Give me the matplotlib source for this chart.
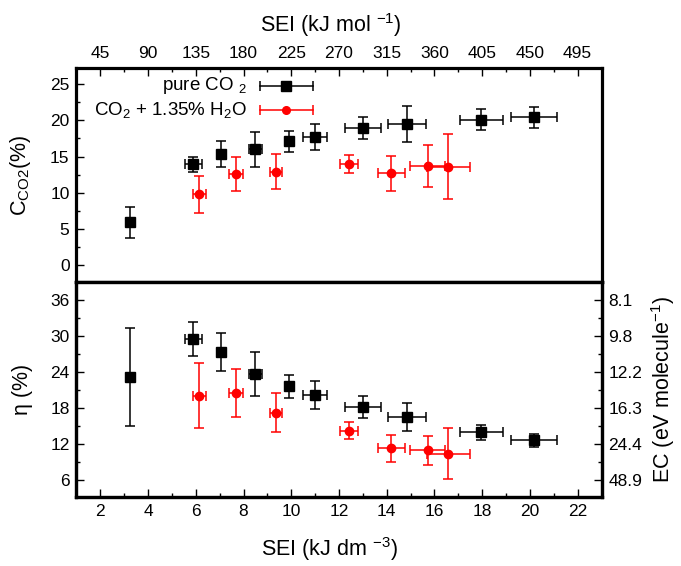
import matplotlib
matplotlib.use("Agg")
import matplotlib.pyplot as plt
from matplotlib.ticker import MultipleLocator

plt.rcParams['font.family'] = ['Liberation Sans', 'DejaVu Sans']
plt.rcParams['mathtext.fontset'] = 'custom'
plt.rcParams['mathtext.rm'] = 'Liberation Sans'
plt.rcParams['mathtext.it'] = 'Liberation Sans:italic'
plt.rcParams['mathtext.default'] = 'regular'

# ---- pure CO2 ----
sei_co2 = [3.23, 5.90, 7.05, 8.49, 9.91, 10.99, 13.00, 14.84, 17.97, 20.18]
sei_co2_err = [0.0, 0.37, 0.12, 0.27, 0.15, 0.50, 0.74, 0.80, 0.89, 0.96]
conv_co2 = [5.9, 13.9, 15.4, 16.0, 17.1, 17.7, 18.9, 19.5, 20.1, 20.4]
conv_co2_err = [2.1, 1.05, 1.8, 2.45, 1.45, 1.8, 1.5, 2.5, 1.5, 1.4]
eff_co2 = [23.1, 29.5, 27.3, 23.6, 21.6, 20.1, 18.1, 16.5, 13.9, 12.6]
eff_co2_err = [8.2, 2.9, 3.2, 3.7, 1.9, 2.3, 1.8, 2.3, 1.3, 1.1]

# ---- CO2 + 1.35% H2O ----
sei_h2o = [6.14, 7.67, 9.36, 12.42, 14.19, 15.71, 16.57]
sei_h2o_err = [0.27, 0.29, 0.25, 0.36, 0.56, 0.72, 0.90]
conv_h2o = [9.8, 12.6, 12.9, 14.0, 12.7, 13.7, 13.6]
conv_h2o_err = [2.55, 2.4, 2.4, 1.25, 2.4, 2.85, 4.5]
eff_h2o = [20.0, 20.5, 17.2, 14.2, 11.2, 10.9, 10.3]
eff_h2o_err = [5.4, 4.0, 3.2, 1.4, 2.2, 2.4, 4.25]

# axis ticks
sei_ticks = [2, 4, 6, 8, 10, 12, 14, 16, 18, 20, 22]
sei_mol_labels = ["45", "90", "135", "180", "225", "270", "315", "360", "405", "450", "495"]
conv_ticks = [0, 5, 10, 15, 20, 25]
eta_ticks = [6, 12, 18, 24, 30, 36]
ec_labels = ["48.9", "24.4", "16.3", "12.2", "9.8", "8.1"]

RED = '#ff0000'
FS_TICK = 12.5
FS_KEY = 13.5
FS_LABEL = 15.5
SPINE_W = 2.3

fig = plt.figure(figsize=(6.81, 5.66), dpi=100)
ax1 = fig.add_axes([0.1123, 0.5018, 0.7710, 0.3775])
ax2 = fig.add_axes([0.1123, 0.1219, 0.7710, 0.3799])

ebkw = dict(linestyle='none', elinewidth=1.1, capsize=3.4, capthick=1.1)

# top panel: CO2 conversion
ax1.errorbar(sei_co2, conv_co2, xerr=sei_co2_err, yerr=conv_co2_err, marker='s',
             markersize=7, color='black', ecolor='black', zorder=3, **ebkw)
ax1.errorbar(sei_h2o, conv_h2o, xerr=sei_h2o_err, yerr=conv_h2o_err, marker='o',
             markersize=6, color=RED, ecolor=RED, zorder=3, **ebkw)

# bottom panel: energy efficiency
ax2.errorbar(sei_co2, eff_co2, xerr=sei_co2_err, yerr=eff_co2_err, marker='s',
             markersize=7, color='black', ecolor='black', zorder=3, **ebkw)
ax2.errorbar(sei_h2o, eff_h2o, xerr=sei_h2o_err, yerr=eff_h2o_err, marker='o',
             markersize=6, color=RED, ecolor=RED, zorder=3, **ebkw)

for ax in (ax1, ax2):
    ax.set_xlim(1, 23)
    for s in ax.spines.values():
        s.set_linewidth(SPINE_W)
    ax.xaxis.set_minor_locator(MultipleLocator(1))
    ax.tick_params(which='both', direction='in', width=1.0, labelsize=FS_TICK, pad=5)
    ax.tick_params(which='major', length=6)
    ax.tick_params(which='minor', length=3)

# top panel axes
ax1.set_ylim(-2.35, 27.2)
ax1.set_yticks(conv_ticks)
ax1.yaxis.set_minor_locator(MultipleLocator(2.5))
ax1.set_xticks(sei_ticks)
ax1.set_xticklabels(sei_mol_labels)
ax1.tick_params(axis='x', which='both', top=True, labeltop=True, bottom=False, labelbottom=False)
ax1.tick_params(axis='y', which='both', left=True, right=False)
ax1.xaxis.set_label_position('top')
ax1.set_xlabel("SEI (kJ mol $^{-1}$)", fontsize=FS_LABEL)
ax1.xaxis.set_label_coords(0.485, 1.17)
ax1.set_ylabel("C$_{CO2}$(%)", fontsize=FS_LABEL)
ax1.yaxis.set_label_coords(-0.082, 0.5)

# bottom panel axes
ax2.set_ylim(3.1, 39.0)
ax2.set_yticks(eta_ticks)
ax2.yaxis.set_minor_locator(MultipleLocator(3))
ax2.set_xticks(sei_ticks)
ax2.tick_params(axis='x', which='both', top=False, bottom=True)
ax2.tick_params(axis='y', which='both', left=True, right=False)
ax2.set_xlabel("SEI (kJ dm $^{-3}$)", fontsize=FS_LABEL)
ax2.xaxis.set_label_coords(0.482, -0.175)
ax2.set_ylabel("η (%)", fontsize=FS_LABEL)
ax2.yaxis.set_label_coords(-0.082, 0.5)

# energy cost scale on the right of the bottom panel
ax2r = ax2.twinx()
ax2r.set_ylim(ax2.get_ylim())
ax2r.set_yticks(eta_ticks)
ax2r.set_yticklabels(ec_labels)
ax2r.yaxis.set_minor_locator(MultipleLocator(3))
ax2r.tick_params(which='both', direction='in', width=1.0, labelsize=FS_TICK, pad=5)
ax2r.tick_params(which='major', length=6)
ax2r.tick_params(which='minor', length=3)
for s in ax2r.spines.values():
    s.set_linewidth(SPINE_W)
ax2r.set_ylabel("EC (eV molecule$^{-1}$)", fontsize=FS_LABEL, labelpad=5)

# key: label text to the left, error-bar sample to the right
key_rows = [("pure CO $_2$", 'black', 's', 6.5, 0.918),
            ("CO$_2$ + 1.35% H$_2$O", RED, 'o', 5.5, 0.807)]
x0, x1 = 0.349, 0.451
for text, col, mk, ms, yk in key_rows:
    ax1.text(0.325, yk, text, transform=ax1.transAxes, ha='right', va='center',
             fontsize=FS_KEY)
    ax1.plot([x0, x1], [yk, yk], color=col, lw=1.1, transform=ax1.transAxes, zorder=4)
    ax1.plot([(x0 + x1) / 2], [yk], marker=mk, markersize=ms, color=col,
             transform=ax1.transAxes, zorder=5)
    for xc in (x0, x1):
        ax1.plot([xc], [yk], marker='|', markersize=7, mew=1.1, color=col,
                 transform=ax1.transAxes, zorder=4)

fig.savefig("out.png", dpi=100)
